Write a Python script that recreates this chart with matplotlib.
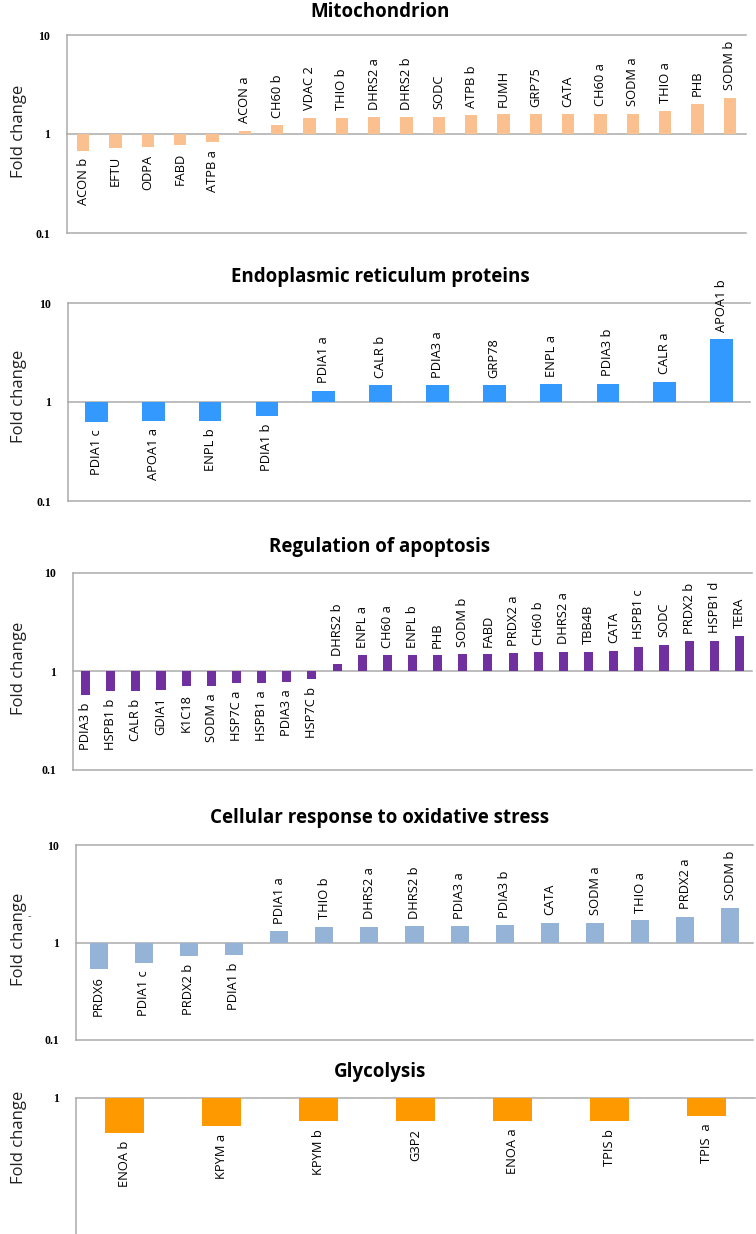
import numpy as np
import matplotlib
matplotlib.use("Agg")
import matplotlib.pyplot as plt

plt.rcParams['font.family'] = ['Open Sans', 'DejaVu Sans']

W, H = 756, 1234  # figure size in px (dpi 100)

# fold changes, one list per GO category
mito_labels = ["ACON b", "EFTU", "ODPA", "FABD", "ATPB a", "ACON a", "CH60 b", "VDAC 2",
               "THIO b", "DHRS2 a", "DHRS2 b", "SODC", "ATPB b", "FUMH", "GRP75", "CATA",
               "CH60 a", "SODM a", "THIO a", "PHB", "SODM b"]
mito_fc = [0.68, 0.72, 0.74, 0.77, 0.83, 1.07, 1.22, 1.46, 1.45, 1.48, 1.48, 1.50, 1.54,
           1.58, 1.58, 1.58, 1.60, 1.60, 1.72, 2.02, 2.31]

er_labels = ["PDIA1 c", "APOA1 a", "ENPL b", "PDIA1 b", "PDIA1 a", "CALR b", "PDIA3 a",
             "GRP78", "ENPL a", "PDIA3 b", "CALR a", "APOA1 b"]
er_fc = [0.63, 0.65, 0.65, 0.73, 1.29, 1.48, 1.48, 1.48, 1.51, 1.53, 1.60, 4.28]

apo_labels = ["PDIA3 b", "HSPB1 b", "CALR b", "GDIA1", "K1C18", "SODM a", "HSP7C a",
              "HSPB1 a", "PDIA3 a", "HSP7C b", "DHRS2 b", "ENPL a", "CH60 a", "ENPL b",
              "PHB", "SODM b", "FABD", "PRDX2 a", "CH60 b", "DHRS2 a", "TBB4B", "CATA",
              "HSPB1 c", "SODC", "PRDX2 b", "HSPB1 d", "TERA"]
apo_fc = [0.58, 0.63, 0.63, 0.65, 0.71, 0.72, 0.76, 0.77, 0.79, 0.84, 1.20, 1.46, 1.46,
          1.46, 1.46, 1.49, 1.49, 1.53, 1.56, 1.59, 1.59, 1.63, 1.77, 1.86, 2.03, 2.06, 2.30]

ox_labels = ["PRDX6", "PDIA1 c", "PRDX2 b", "PDIA1 b", "PDIA1 a", "THIO b", "DHRS2 a",
             "DHRS2 b", "PDIA3 a", "PDIA3 b", "CATA", "SODM a", "THIO a", "PRDX2 a", "SODM b"]
ox_fc = [0.54, 0.62, 0.72, 0.74, 1.30, 1.44, 1.44, 1.47, 1.47, 1.50, 1.58, 1.58, 1.69,
         1.84, 2.28]

gly_labels = ["ENOA b", "KPYM a", "KPYM b", "G3P2", "ENOA a", "TPIS b", "TPIS  a"]
gly_fc = [0.44, 0.52, 0.58, 0.58, 0.58, 0.58, 0.66]

GRID = "#ABABAB"


def rect(l, r, t, b):
    return [l / W, 1 - b / H, (r - l) / W, (b - t) / H]


def panel(fig, title, labels, fc, color, width, box, title_y, ylab_y, ymin=0.1, ticks=(0.1, 1, 10)):
    ax = fig.add_axes(rect(*box))
    x = np.arange(len(fc))
    fc = np.asarray(fc)
    ax.bar(x, fc - 1, bottom=1, width=width, color=color, zorder=3)
    ax.set_yscale("log")
    ax.set_ylim(ymin, 10 if ymin == 0.1 else 1)
    ax.set_xlim(-0.5, len(fc) - 0.5)
    for t in ticks:
        ax.axhline(t, color=GRID, lw=1.1, zorder=1, clip_on=False)
    ax.set_yticks(list(ticks))
    ax.set_yticklabels([f"{t:g}" for t in ticks], fontweight="bold", fontsize=8.5,
                       family=["Liberation Serif"])
    ax.minorticks_off()
    ax.tick_params(axis="y", length=0, pad=12)
    ax.set_xticks([])
    for s in ("top", "right", "bottom"):
        ax.spines[s].set_visible(False)
    ax.spines["left"].set_color(GRID)
    ax.spines["left"].set_linewidth(1.1)
    for xi, v, lab in zip(x, fc, labels):
        up = v >= 1
        ax.annotate(lab, (xi, v), xytext=(0, 5.5 if up else -5.5), textcoords="offset points",
                    rotation=90, ha="center", va="bottom" if up else "top", fontsize=9.3)
    fig.text(380 / W, 1 - title_y / H, title, ha="center", va="center",
             fontsize=13.5, fontweight="bold")
    fig.text(19 / W, 1 - ylab_y / H, "Fold change", rotation=90, ha="center", va="center",
             fontsize=12, color="#222222")
    return ax


fig = plt.figure(figsize=(W / 100, H / 100), dpi=100)
panel(fig, "Mitochondrion", mito_labels, mito_fc, "#FAC090", 0.39, (67, 746, 35, 233), 12, 131)
panel(fig, "Endoplasmic reticulum proteins", er_labels, er_fc, "#3399FF", 0.40,
      (68, 750, 303, 501), 277, 396)
panel(fig, "Regulation of apoptosis", apo_labels, apo_fc, "#7030A0", 0.36,
      (73, 752, 573, 770), 547, 668)
panel(fig, "Cellular response to oxidative stress", ox_labels, ox_fc, "#95B3D7", 0.40,
      (76, 753, 845, 1040), 818, 939)
panel(fig, "Glycolysis", gly_labels, gly_fc, "#FF9900", 0.40,
      (76, 755, 1098, 1234), 1072, 1137, ymin=10 ** (-136 / 98), ticks=(1,))
fig.text(29 / W, 1 - 917 / H, "-", ha="center", va="center", fontsize=8, color="#555555")

fig.savefig("out.png", dpi=100)
